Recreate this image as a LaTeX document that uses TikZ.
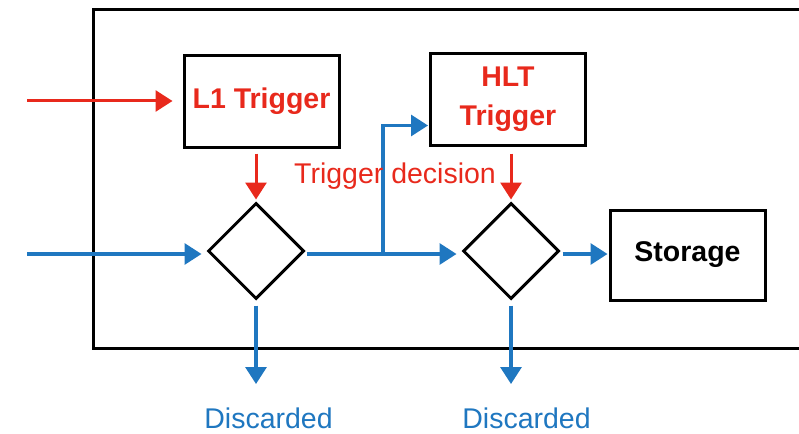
\documentclass[tikz,border=0pt]{standalone}
\usepackage{fontspec}
\setmainfont{Liberation Sans}
\usetikzlibrary{arrows.meta,shapes.geometric}
\definecolor{trigred}{HTML}{E8291C}
\definecolor{flowblue}{HTML}{1F77C0}
\begin{document}
\begin{tikzpicture}[x=1pt,y=-1pt,
  boxnode/.style={draw=black,line width=3pt,minimum width=155pt,minimum height=91pt,inner sep=0pt,align=center,font=\fontsize{28.5}{31}\selectfont\bfseries},
  decision/.style={draw=black,line width=3pt,diamond,minimum width=96pt,minimum height=96pt,inner sep=0pt},
  redarrow/.style={draw=trigred,line width=3pt,-{Triangle[width=21pt,length=17pt]}},
  bluearrow/.style={draw=flowblue,line width=3.2pt,-{Triangle[width=21pt,length=17pt]}},
  blueline/.style={draw=flowblue,line width=3.2pt},
  lbl/.style={font=\fontsize{28.5}{31}\selectfont,inner sep=0pt}
]
\useasboundingbox (0,0) rectangle (799,433);
% outer frame (right side beyond the picture)
\draw[line width=3pt] (810,10) -- (93,10) -- (93,348) -- (810,348);

\node[boxnode,text=trigred] (l1) at (261.5,101.5) {L1 Trigger};
\node[boxnode,text=trigred,font=\fontsize{28.5}{37}\selectfont\bfseries] (hlt) at (508,99.5) {HLT\\[0pt]\raisebox{-2pt}{Trigger}};
\node[boxnode,text=black,minimum height=90pt] (sto) at (687.5,255) {Storage};

\node[decision] (d1) at (256,251) {};
\node[decision] (d2) at (511,251) {};

\coordinate (rin) at (27,101);
\coordinate (bin) at (27,254);
\coordinate (br) at (383,254);
\coordinate (o1) at (256,384);
\coordinate (o2) at (511,384);

% red trigger flow
\draw[redarrow] (rin) -- ([xshift=-10pt]l1.west |- rin);
\draw[redarrow] ([yshift=-5pt]l1.south -| d1.north) -- ([yshift=2pt]d1.north);
\draw[redarrow] ([yshift=-7pt]hlt.south -| d2.north) -- ([yshift=2pt]d2.north);

% blue data flow
\draw[bluearrow] (bin) -- ([xshift=-5pt]d1.west |- bin);
\draw[blueline] ([xshift=1pt]d1.east |- br) -- (br);
\draw[bluearrow] (br) -- ([xshift=-5pt]d2.west |- br);
\draw[bluearrow] (br) |- ([yshift=-26pt,xshift=-1pt]hlt.west);
\draw[bluearrow] ([xshift=2pt]d2.east |- br) -- ([xshift=-1pt]sto.west |- br);
\draw[bluearrow] ([yshift=-5pt]d1.south) -- (o1);
\draw[bluearrow] ([yshift=-5pt]d2.south) -- (o2);

% labels
\node[lbl,text=trigred] (td) at (395,176) {Trigger decision};
\node[lbl,text=flowblue] (dc1) at (268.5,418) {Discarded};
\node[lbl,text=flowblue] (dc2) at (526.5,418) {Discarded};
\end{tikzpicture}
\end{document}
